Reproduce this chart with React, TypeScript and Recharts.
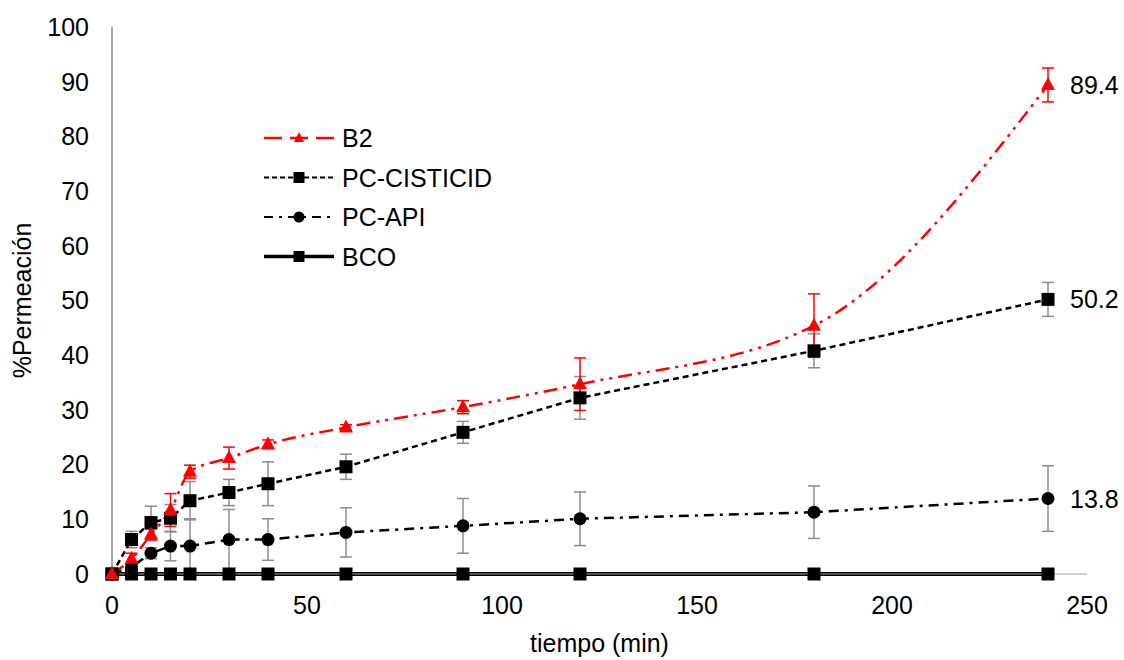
import React from "react"
import { LineChart, Line, XAxis, YAxis, ErrorBar } from "recharts"

const times = [0, 5, 10, 15, 20, 30, 40, 60, 90, 120, 180, 240]
const b2 = [0, 2.8, 7.2, 11.7, 18.7, 21.2, 23.7, 26.8, 30.5, 34.7, 45.4, 89.4]
const b2Err = [0, 1, 1, 3, 1.2, 2, 0.8, 0.5, 1.2, 4.8, 5.8, 3.1]
const cisticid = [0, 6.3, 9.4, 10.2, 13.4, 14.9, 16.5, 19.6, 25.9, 32.2, 40.8, 50.2]
const cisticidErr = [0, 1.5, 3, 2.5, 3.5, 2.4, 4, 2.3, 2, 3.9, 3.1, 3.1]
const api = [0, 1.3, 3.8, 5.1, 5.1, 6.3, 6.3, 7.6, 8.8, 10.1, 11.3, 13.8]
const apiErr = [0, 0.5, 1, 2.7, 5, 5.5, 3.8, 4.5, 5, 4.9, 4.8, 6]
const bco = [0, 0, 0, 0, 0, 0, 0, 0, 0, 0, 0, 0]

const xTicks = [0, 50, 100, 150, 200, 250]
const yTicks = [0, 10, 20, 30, 40, 50, 60, 70, 80, 90, 100]

const data = times.map((t, i) => ({
  t,
  b2: b2[i],
  b2Err: b2Err[i],
  cisticid: cisticid[i],
  cisticidErr: cisticidErr[i],
  api: api[i],
  apiErr: apiErr[i],
  bco: bco[i],
}))

const FONT = "'Liberation Sans', Arial, sans-serif"
const FS = 25
const last = times.length - 1

const Triangle = (props: any) => {
  const { cx, cy } = props
  if (cx == null || cy == null) return <g />
  return <path d={`M${cx},${cy - 8} L${cx + 7},${cy + 5} L${cx - 7},${cy + 5} Z`} fill="#ff0000" />
}

const Square = (props: any) => {
  const { cx, cy } = props
  if (cx == null || cy == null) return <g />
  return <rect x={cx - 6.5} y={cy - 6.5} width={13} height={13} fill="#000" />
}

const Dot = (props: any) => {
  const { cx, cy } = props
  if (cx == null || cy == null) return <g />
  return <circle cx={cx} cy={cy} r={6.5} fill="#000" />
}

const endLabel = (props: any) => {
  const { x, y, value, index } = props
  if (index !== last) return <g />
  return (
    <text x={x + 22} y={y} dy="0.36em" fontSize={FS} fontFamily={FONT} fill="#000">
      {value}
    </text>
  )
}

const legendItems = [
  { name: "B2", color: "#ff0000", dash: "18 8", width: 2.5, marker: "tri" },
  { name: "PC-CISTICID", color: "#000", dash: "5 3", width: 2, marker: "sq" },
  { name: "PC-API", color: "#000", dash: "9 6 3 6", width: 2, marker: "dot" },
  { name: "BCO", color: "#000", dash: "", width: 3.5, marker: "sq" },
]

const ChartLegend = () => (
  <svg width={320} height={170} style={{ position: "absolute", left: 250, top: 121 }}>
    {legendItems.map((it, i) => {
      const y = 17 + i * 39.5
      return (
        <g key={it.name}>
          <line x1={14} y1={y} x2={84} y2={y} stroke={it.color} strokeWidth={it.width} strokeDasharray={it.dash} />
          {it.marker === "tri" && <path d={`M49,${y - 6} L54,${y + 4} L44,${y + 4} Z`} fill={it.color} />}
          {it.marker === "sq" && <rect x={43.5} y={y - 5.5} width={11} height={11} fill="#000" />}
          {it.marker === "dot" && <circle cx={49} cy={y} r={5.5} fill="#000" />}
          <text x={92} y={y} dy="0.36em" fontSize={FS} fontFamily={FONT} fill="#000">
            {it.name}
          </text>
        </g>
      )
    })}
  </svg>
)

export default function App() {
  return (
    <div style={{ position: "absolute", left: 0, top: 0, width: 1124, height: 660, background: "#fff" }}>
      <LineChart width={1124} height={660} data={data} margin={{ top: 27, right: 37, bottom: 0, left: 0 }}>
        <XAxis
          dataKey="t"
          type="number"
          domain={[0, 250]}
          ticks={xTicks}
          tickLine={false}
          tickMargin={16}
          axisLine={{ stroke: "#a6a6a6", strokeWidth: 1.2 }}
          tick={{ fontSize: FS, fontFamily: FONT, fill: "#000" }}
          label={{ value: "tiempo (min)", position: "insideBottom", offset: 8, fontSize: FS, fontFamily: FONT, fill: "#000" }}
          height={86}
        />
        <YAxis
          type="number"
          domain={[0, 100]}
          ticks={yTicks}
          width={112}
          tickLine={false}
          tickMargin={17}
          axisLine={{ stroke: "#a6a6a6", strokeWidth: 2 }}
          tick={{ fontSize: FS, fontFamily: FONT, fill: "#000" }}
          label={{ value: "%Permeación", angle: -90, position: "insideLeft", offset: 22, fontSize: FS, fontFamily: FONT, fill: "#000", style: { textAnchor: "middle" } }}
        />
        <Line
          dataKey="api"
          stroke="#000"
          strokeWidth={2.5}
          strokeDasharray="10 6 3 6"
          dot={<Dot />}
          activeDot={false}
          isAnimationActive={false}
          label={endLabel}
        >
          <ErrorBar dataKey="apiErr" width={6} stroke="#8c8c8c" strokeWidth={1.5} direction="y" isAnimationActive={false} />
        </Line>
        <Line
          dataKey="cisticid"
          stroke="#000"
          strokeWidth={2.5}
          strokeDasharray="6 4"
          dot={<Square />}
          activeDot={false}
          isAnimationActive={false}
          label={endLabel}
        >
          <ErrorBar dataKey="cisticidErr" width={6} stroke="#8c8c8c" strokeWidth={1.5} direction="y" isAnimationActive={false} />
        </Line>
        <Line
          dataKey="bco"
          stroke="#000"
          strokeWidth={4}
          dot={<Square />}
          activeDot={false}
          isAnimationActive={false}
        />
        <Line
          dataKey="b2"
          type="monotone"
          stroke="#ff0000"
          strokeWidth={2.5}
          strokeDasharray="14 6 3 6 3 6"
          dot={<Triangle />}
          activeDot={false}
          isAnimationActive={false}
          label={endLabel}
        >
          <ErrorBar dataKey="b2Err" width={6} stroke="#ff0000" strokeWidth={1.5} direction="y" isAnimationActive={false} />
        </Line>
      </LineChart>
      <ChartLegend />
    </div>
  )
}
